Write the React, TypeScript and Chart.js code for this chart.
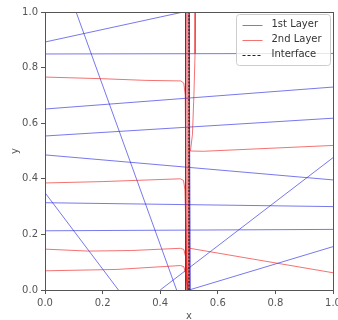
import React, { useEffect, useRef } from 'react';
import { Chart, registerables } from 'chart.js';

Chart.register(...registerables);

// ---- data ----
const xTicks = [0, 0.2, 0.4, 0.6, 0.8, 1.0];
const yTicks = [0, 0.2, 0.4, 0.6, 0.8, 1.0];
const legendLabels = ['1st Layer', '2nd Layer', 'Interface'];

// 1st layer rays (blue)
const b1 = [[0, 0.892], [0.48, 1.0]];
const b2 = [[0, 0.849], [1, 0.851]];
const b3 = [[0.108, 1.0], [0.457, 0]];
const b4 = [[0, 0.651], [1, 0.73]];
const b5 = [[0, 0.554], [1, 0.618]];
const b6 = [[0, 0.486], [1, 0.396]];
const b7 = [[0, 0.314], [1, 0.3]];
const b8 = [[0, 0.213], [1, 0.218]];
const b9 = [[0, 0.35], [0.255, 0]];
const b10 = [[0.4, 0], [1, 0.476]];
const b11 = [[0.5, 0], [1, 0.156]];
const b12 = [[0.488, 1.0], [0.488, 0]];
const b13 = [[0.5, 1.0], [0.505, 0]];

// 2nd layer rays (red)
const r1 = [[0, 0.766], [0.2, 0.76], [0.35, 0.754], [0.472, 0.752], [0.482, 0.744], [0.487, 0.7], [0.492, 0]];
const r2 = [[0, 0.385], [0.2, 0.39], [0.47, 0.4], [0.481, 0.394], [0.486, 0.36], [0.494, 0]];
const r3 = [[0, 0.147], [0.15, 0.14], [0.3, 0.142], [0.47, 0.15], [0.482, 0.146], [0.488, 0.12], [0.496, 0]];
const r4 = [[0, 0.069], [0.25, 0.074], [0.47, 0.088], [0.482, 0.084], [0.488, 0.06], [0.497, 0]];
const r5 = [[0.492, 1.0], [0.494, 0]];
const r6 = [[0.496, 1.0], [0.498, 0]];
const r7 = [[0.501, 1.0], [0.501, 0]];
const r8 = [[0.522, 1.0], [0.521, 0.85], [0.517, 0.7], [0.512, 0.56], [0.505, 0.5], [0.55, 0.499], [1.0, 0.52]];
const r9 = [[0.503, 0.15], [1.0, 0.062]];

// interface
const interfaceLine = [[0.5, 0], [0.5, 1.0]];

const firstLayer = [b1, b2, b3, b4, b5, b6, b7, b8, b9, b10, b11, b12, b13];
const secondLayer = [r1, r2, r3, r4, r5, r6, r7, r8, r9];

// ---- styles ----
const BLUE = 'rgba(30,30,225,0.6)';
const RED = 'rgba(235,20,20,0.6)';
const DASH = '#222222';
const FONT = 'DejaVu Sans';
const TEXT = '#555555';
const SPINE = '#555555';

const toPts = (arr: number[][]) => arr.map(([x, y]) => ({ x, y }));

const framePlugin = {
  id: 'frameAndLegend',
  afterDraw(chart: any) {
    const { ctx, chartArea } = chart;
    const { left, right, top, bottom } = chartArea;
    ctx.save();
    ctx.strokeStyle = SPINE;
    ctx.lineWidth = 1;
    ctx.strokeRect(Math.round(left) + 0.5, Math.round(top) + 0.5, Math.round(right - left), Math.round(bottom - top));

    const w = 94, h = 51;
    const x0 = Math.round(right) - w - 3 + 0.5;
    const y0 = Math.round(top) + 2 + 0.5;
    ctx.beginPath();
    if ((ctx as any).roundRect) (ctx as any).roundRect(x0, y0, w, h, 3);
    else ctx.rect(x0, y0, w, h);
    ctx.fillStyle = 'rgba(255,255,255,0.8)';
    ctx.fill();
    ctx.strokeStyle = '#cccccc';
    ctx.stroke();

    const colors = [BLUE, RED, DASH];
    const rowY = [y0 + 10, y0 + 25, y0 + 40];
    ctx.font = `10px "${FONT}"`;
    ctx.textBaseline = 'middle';
    ctx.textAlign = 'left';
    legendLabels.forEach((label, i) => {
      const yy = Math.round(rowY[i]) + 0.5;
      ctx.beginPath();
      ctx.strokeStyle = colors[i];
      ctx.lineWidth = 1;
      ctx.setLineDash(i === 2 ? [3, 2] : []);
      ctx.moveTo(x0 + 6, yy);
      ctx.lineTo(x0 + 26, yy);
      ctx.stroke();
      ctx.setLineDash([]);
      ctx.fillStyle = '#333333';
      ctx.fillText(label, x0 + 35, rowY[i]);
    });
    ctx.restore();
  },
};

export default function App() {
  const ref = useRef<HTMLCanvasElement | null>(null);

  useEffect(() => {
    document.body.style.margin = '0';
    if (!ref.current) return;

    const datasets: any[] = [];
    datasets.push({
      label: 'Interface',
      data: toPts(interfaceLine),
      borderColor: DASH,
      borderWidth: 1.2,
      borderDash: [2, 1.5],
      showLine: true,
      pointRadius: 0,
    });
    secondLayer.forEach((arr, i) => {
      datasets.push({
        label: i === 0 ? '2nd Layer' : '',
        data: toPts(arr),
        borderColor: RED,
        borderWidth: 1,
        showLine: true,
        pointRadius: 0,
      });
    });
    firstLayer.forEach((arr, i) => {
      datasets.push({
        label: i === 0 ? '1st Layer' : '',
        data: toPts(arr),
        borderColor: BLUE,
        borderWidth: 1,
        showLine: true,
        pointRadius: 0,
      });
    });

    const tickFont = { family: FONT, size: 10 };

    const chart = new Chart(ref.current, {
      type: 'scatter',
      data: { datasets },
      plugins: [framePlugin],
      options: {
        animation: false,
        responsive: false,
        events: [],
        layout: { padding: { top: 12, right: 5, left: 0, bottom: 0 } },
        plugins: { legend: { display: false }, tooltip: { enabled: false } },
        scales: {
          x: {
            type: 'linear',
            min: 0,
            max: 1,
            afterBuildTicks: (s: any) => {
              s.ticks = xTicks.map((v) => ({ value: v }));
            },
            afterFit: (s: any) => {
              s.height = 30;
              s.paddingLeft = 0;
              s.paddingRight = 0;
            },
            ticks: {
              font: tickFont,
              color: TEXT,
              padding: 3,
              maxRotation: 0,
              autoSkip: false,
              callback: (v: any) => Number(v).toFixed(1),
            },
            grid: { drawOnChartArea: false, drawTicks: true, tickLength: 4, tickColor: SPINE, color: SPINE },
            border: { display: false },
            title: {
              display: true,
              text: 'x',
              color: TEXT,
              font: { family: FONT, size: 10, lineHeight: 1 },
              padding: { top: 0, bottom: -1 },
            },
          },
          y: {
            type: 'linear',
            min: 0,
            max: 1,
            afterBuildTicks: (s: any) => {
              s.ticks = yTicks.map((v) => ({ value: v }));
            },
            afterFit: (s: any) => {
              s.width = 45;
              s.paddingTop = 0;
              s.paddingBottom = 0;
            },
            ticks: {
              font: tickFont,
              color: TEXT,
              padding: 3,
              autoSkip: false,
              callback: (v: any) => Number(v).toFixed(1),
            },
            grid: { drawOnChartArea: false, drawTicks: true, tickLength: 4, tickColor: SPINE, color: SPINE },
            border: { display: false },
            title: {
              display: true,
              text: 'y',
              color: TEXT,
              font: { family: FONT, size: 10, lineHeight: 1.2 },
              padding: { top: 9, bottom: 0 },
            },
          },
        },
      } as any,
    });
    return () => chart.destroy();
  }, []);

  return (
    <div style={{ width: 338, height: 320 }}>
      <canvas ref={ref} width={338} height={320} style={{ display: 'block' }} />
    </div>
  );
}
